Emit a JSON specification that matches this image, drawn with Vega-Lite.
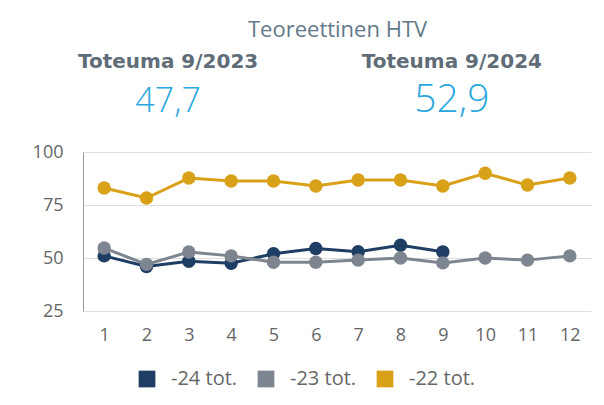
{
  "$schema": "https://vega.github.io/schema/vega-lite/v6.json",
  "background": "white",
  "padding": {"left": 32, "top": 19, "right": 10, "bottom": 5},
  "config": {
    "font": "Open Sans",
    "view": {"stroke": null},
    "concat": {"spacing": 21}
  },
  "title": {
    "text": "Teoreettinen HTV",
    "fontSize": 22,
    "fontWeight": "normal",
    "color": "#62798a",
    "anchor": "middle",
    "dx": 26,
    "offset": 0
  },
  "datasets": {
    "header": [
      {"col": "2023", "row": "label", "text": "Toteuma 9/2023"},
      {"col": "2024", "row": "label", "text": "Toteuma 9/2024"},
      {"col": "2023", "row": "value", "text": "47,7"},
      {"col": "2024", "row": "value", "text": "52,9"}
    ],
    "series": [
      {"month": 1, "series": "-24 tot.", "value": 51},
      {"month": 2, "series": "-24 tot.", "value": 46},
      {"month": 3, "series": "-24 tot.", "value": 48.5},
      {"month": 4, "series": "-24 tot.", "value": 47.5},
      {"month": 5, "series": "-24 tot.", "value": 52},
      {"month": 6, "series": "-24 tot.", "value": 54.5},
      {"month": 7, "series": "-24 tot.", "value": 53},
      {"month": 8, "series": "-24 tot.", "value": 56},
      {"month": 9, "series": "-24 tot.", "value": 52.9},
      {"month": 1, "series": "-23 tot.", "value": 54.7},
      {"month": 2, "series": "-23 tot.", "value": 47},
      {"month": 3, "series": "-23 tot.", "value": 52.8},
      {"month": 4, "series": "-23 tot.", "value": 51},
      {"month": 5, "series": "-23 tot.", "value": 48},
      {"month": 6, "series": "-23 tot.", "value": 48},
      {"month": 7, "series": "-23 tot.", "value": 49},
      {"month": 8, "series": "-23 tot.", "value": 50},
      {"month": 9, "series": "-23 tot.", "value": 47.7},
      {"month": 10, "series": "-23 tot.", "value": 50},
      {"month": 11, "series": "-23 tot.", "value": 49},
      {"month": 12, "series": "-23 tot.", "value": 51},
      {"month": 1, "series": "-22 tot.", "value": 83},
      {"month": 2, "series": "-22 tot.", "value": 78.3},
      {"month": 3, "series": "-22 tot.", "value": 87.7},
      {"month": 4, "series": "-22 tot.", "value": 86.3},
      {"month": 5, "series": "-22 tot.", "value": 86.3},
      {"month": 6, "series": "-22 tot.", "value": 84},
      {"month": 7, "series": "-22 tot.", "value": 86.8},
      {"month": 8, "series": "-22 tot.", "value": 86.8},
      {"month": 9, "series": "-22 tot.", "value": 84},
      {"month": 10, "series": "-22 tot.", "value": 90},
      {"month": 11, "series": "-22 tot.", "value": 84.4},
      {"month": 12, "series": "-22 tot.", "value": 87.7}
    ]
  },
  "vconcat": [
    {
      "width": 454,
      "height": 80,
      "data": {"name": "header"},
      "encoding": {
        "x": {"field": "col", "type": "nominal", "scale": {"type": "point", "padding": 0.3}, "axis": null},
        "y": {"field": "row", "type": "nominal", "scale": {"type": "point", "padding": 0.5, "domain": ["label", "value"]}, "axis": null},
        "text": {"field": "text"}
      },
      "layer": [
        {
          "transform": [{"filter": "datum.row === 'label'"}],
          "mark": {"type": "text", "font": "DejaVu Sans", "fontSize": 20, "fontWeight": "bold", "color": "#5f6d79", "baseline": "middle"}
        },
        {
          "transform": [{"filter": "datum.row === 'value' && datum.col === '2023'"}],
          "mark": {"type": "text", "fontSize": 34, "fontWeight": 300, "color": "#2aa7de", "baseline": "middle"}
        },
        {
          "transform": [{"filter": "datum.row === 'value' && datum.col === '2024'"}],
          "mark": {"type": "text", "fontSize": 39, "fontWeight": 300, "color": "#2aa7de", "baseline": "middle", "dy": -2}
        }
      ]
    },
    {
      "width": 508,
      "height": 159,
      "data": {"name": "series"},
      "encoding": {
        "x": {
          "field": "month", "type": "ordinal",
          "scale": {"type": "point", "padding": 0.5},
          "axis": {"title": null, "labelAngle": 0, "domain": false, "ticks": false, "labelColor": "#666666", "labelFontSize": 18, "labelPadding": 15}
        },
        "y": {
          "field": "value", "type": "quantitative",
          "scale": {"domain": [25, 100], "nice": false, "zero": false},
          "axis": {"title": null, "values": [25, 50, 75, 100], "ticks": false, "domain": true, "domainColor": "#999999", "gridColor": "#dedede", "labelColor": "#666666", "labelFontSize": 18, "labelPadding": 20}
        },
        "color": {
          "field": "series", "type": "nominal",
          "scale": {"domain": ["-24 tot.", "-23 tot.", "-22 tot."], "range": ["#1f3e63", "#7d8591", "#d9a118"]},
          "legend": {"title": null, "orient": "none", "legendX": 54, "legendY": 327, "direction": "horizontal", "padding": 0, "symbolType": "square", "symbolSize": 280, "symbolStrokeWidth": 0, "labelFontSize": 20, "labelColor": "#666666", "labelOffset": 14, "columnPadding": 18}
        }
      },
      "layer": [
        {"mark": {"type": "line", "strokeWidth": 3}},
        {"mark": {"type": "circle", "size": 180, "opacity": 1}}
      ]
    }
  ]
}
